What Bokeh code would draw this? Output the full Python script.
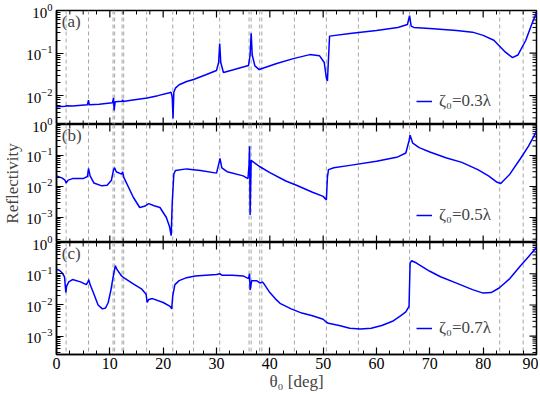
import numpy as np
from bokeh.plotting import figure
from bokeh.models import (LogAxis, LinearAxis, FixedTicker, Span, Label,
                          Legend, LegendItem, Range1d, LogScale)
from bokeh.layouts import column
from bokeh.embed import file_html
from bokeh.resources import INLINE

FONT = "Liberation Serif"
BLUE = "#0000ff"

# ---------------- data ----------------
theta_a = [0.0, 1.7, 1.8, 3.0, 5.8, 6.0, 6.15, 8.0, 10.5, 10.7, 10.8, 11.0, 12.3, 12.4, 12.5, 14.0,
           17.0, 19.0, 21.0, 21.5, 21.7, 21.85, 22.0, 22.3, 23.0, 24.4, 25.7, 28.0, 30.0, 30.4,
           30.6, 30.8, 31.3, 33.0, 36.0, 36.3, 36.5, 36.7, 37.2, 38.0, 41.3, 44.4, 47.5, 49.3,
           50.2, 50.6, 50.8, 51.2, 55.0, 60.0, 64.0, 65.8, 66.2, 66.5, 67.0, 70.0, 75.0, 78.0,
           80.0, 82.0, 84.0, 85.5, 86.5, 88.0, 89.0, 90.0]
refl_a = [0.0055, 0.0056, 0.0058, 0.0057, 0.0061, 0.0078, 0.0061, 0.0063, 0.0068, 0.0088, 0.0045,
          0.0072, 0.0074, 0.0080, 0.0073, 0.0078, 0.0088, 0.0100, 0.0115, 0.0120, 0.0090, 0.0029,
          0.0120, 0.0150, 0.0180, 0.0215, 0.0240, 0.0310, 0.0390, 0.0600, 0.168, 0.060, 0.035,
          0.040, 0.051, 0.090, 0.290, 0.090, 0.050, 0.041, 0.057, 0.074, 0.092, 0.087, 0.060,
          0.026, 0.022, 0.250, 0.290, 0.340, 0.400, 0.470, 0.760, 0.430, 0.400, 0.380, 0.340,
          0.310, 0.260, 0.200, 0.110, 0.078, 0.090, 0.200, 0.440, 0.900]

theta_b = [0.0, 1.0, 1.6, 1.8, 2.2, 3.0, 5.0, 5.8, 6.0, 6.3, 7.0, 8.5, 9.5, 10.3, 10.7, 10.9, 11.2,
           12.2, 12.4, 12.6, 14.4, 15.6, 16.5, 17.3, 18.3, 19.4, 20.6, 21.2, 21.5, 21.7, 22.0,
           22.3, 24.4, 27.0, 30.0, 30.5, 30.65, 31.0, 32.0, 35.0, 35.9, 36.1, 36.2, 36.3, 36.5,
           37.0, 38.0, 40.0, 43.0, 45.0, 48.0, 50.0, 50.6, 50.8, 51.0, 52.0, 55.0, 60.0, 64.0,
           65.5, 66.1, 66.3, 66.8, 68.0, 70.0, 73.0, 76.0, 79.0, 81.0, 82.5, 83.3, 85.0, 87.0,
           88.5, 90.0]
refl_b = [0.022, 0.019, 0.016, 0.013, 0.016, 0.018, 0.018, 0.021, 0.038, 0.022, 0.013, 0.0105,
          0.011, 0.016, 0.035, 0.040, 0.030, 0.025, 0.030, 0.020, 0.0045, 0.0021, 0.0023, 0.0028,
          0.0024, 0.0021, 0.0010, 0.0005, 0.00026, 0.003, 0.025, 0.033, 0.037, 0.033, 0.027,
          0.060, 0.080, 0.040, 0.030, 0.022, 0.018, 0.050, 0.200, 0.0012, 0.070, 0.060, 0.045,
          0.028, 0.015, 0.011, 0.0065, 0.0048, 0.0037, 0.020, 0.035, 0.040, 0.048, 0.065, 0.090,
          0.120, 0.300, 0.450, 0.250, 0.180, 0.130, 0.085, 0.060, 0.035, 0.022, 0.014, 0.0125,
          0.025, 0.080, 0.200, 0.600]

theta_c = [0.0, 0.5, 1.0, 1.5, 1.75, 1.9, 2.3, 3.0, 4.5, 5.6, 5.9, 6.05, 6.3, 6.9, 7.8, 8.6, 9.2,
           9.7, 10.2, 10.6, 10.9, 11.05, 11.3, 12.2, 12.4, 12.6, 14.4, 16.0, 16.8, 17.0, 17.3,
           18.0, 20.0, 21.3, 21.6, 21.8, 22.2, 23.0, 24.4, 26.0, 28.0, 30.0, 30.6, 31.0, 33.0,
           35.0, 36.0, 36.2, 36.3, 36.6, 37.5, 38.2, 38.6, 39.0, 40.0, 41.0, 42.0, 44.0, 46.0,
           48.0, 50.0, 50.6, 51.0, 53.0, 55.0, 57.0, 59.0, 61.0, 63.0, 64.5, 65.5, 66.1, 66.3,
           66.6, 67.5, 70.0, 72.0, 75.0, 78.0, 80.0, 81.5, 83.0, 85.0, 87.0, 88.5, 90.0]
refl_c = [0.14, 0.13, 0.11, 0.08, 0.025, 0.04, 0.055, 0.065, 0.055, 0.045, 0.055, 0.065, 0.045,
          0.025, 0.010, 0.0075, 0.008, 0.012, 0.030, 0.075, 0.14, 0.18, 0.14, 0.085, 0.080,
          0.075, 0.047, 0.032, 0.022, 0.012, 0.015, 0.016, 0.012, 0.009, 0.0075, 0.020, 0.045,
          0.060, 0.075, 0.085, 0.090, 0.095, 0.100, 0.090, 0.090, 0.085, 0.070, 0.100, 0.030,
          0.060, 0.060, 0.050, 0.055, 0.045, 0.025, 0.016, 0.011, 0.0075, 0.0055, 0.0045, 0.0035,
          0.0028, 0.0026, 0.0022, 0.0018, 0.0017, 0.0018, 0.0022, 0.0030, 0.0045, 0.0060, 0.0090,
          0.22, 0.26, 0.22, 0.12, 0.080, 0.050, 0.031, 0.024, 0.025, 0.035, 0.070, 0.18, 0.35, 0.70]

anomalies = [1.8, 6.0, 10.6, 10.9, 12.3, 12.6, 16.9, 21.8, 25.7, 30.6, 36.1, 36.5, 38.1, 38.5,
             44.6, 50.6, 56.6, 66.2, 83.1, 87.5]

panel_names = ["(a)", "(b)", "(c)"]
legend_texts = ["\u03b6\u2080=0.3\u03bb", "\u03b6\u2080=0.5\u03bb", "\u03b6\u2080=0.7\u03bb"]
y_bounds = [(0.0021, 1.0), (0.000156, 1.0), (0.00026, 1.0)]
y_major = [[0.01, 0.1, 1.0], [0.001, 0.01, 0.1, 1.0], [0.001, 0.01, 0.1, 1.0]]
x_major = [0, 10, 20, 30, 40, 50, 60, 70, 80, 90]
x_minor = [v + d for v in x_major[:-1] for d in (2.5, 5.0, 7.5)]
x_label = "\u03b8\u2080 [deg]"
y_label = "Reflectivity"


def minor_ticks(lo, hi):
    out = []
    for e in range(-5, 1):
        for k in range(2, 10):
            v = k * 10.0 ** e
            if lo <= v <= hi:
                out.append(v)
    return out


def style_axis(ax, size="16px", standoff=3):
    ax.axis_line_width = 1.5
    ax.axis_line_color = "black"
    ax.major_tick_in = 7
    ax.major_tick_out = 0
    ax.minor_tick_in = 4
    ax.minor_tick_out = 0
    ax.major_tick_line_width = 1.2
    ax.minor_tick_line_width = 1.0
    ax.major_tick_line_color = "black"
    ax.minor_tick_line_color = "black"
    ax.major_label_text_font = FONT
    ax.major_label_text_font_size = size
    ax.major_label_text_color = "black"
    ax.major_label_standoff = standoff


def mirror_ticks(p, xs, ys, length, angle, width):
    p.ray(x=xs, y=ys, length=length, length_units="screen", angle=angle,
          line_color="black", line_width=width)


BTOP = 10
frame_heights = [114, 118, 112]
legend_y = [13, 17, 16]
figs = []
for i, (th, rf) in enumerate([(theta_a, refl_a), (theta_b, refl_b), (theta_c, refl_c)]):
    lo, hi = y_bounds[i]
    last = i == 2
    p = figure(frame_width=480, frame_height=frame_heights[i], output_backend="svg",
               toolbar_location=None, x_axis_type=None, y_axis_type=None,
               x_range=Range1d(0, 90), y_range=Range1d(lo, hi),
               min_border_left=50, min_border_right=8, min_border_top=BTOP,
               min_border_bottom=(37 if last else 0))
    p.y_scale = LogScale()
    p.background_fill_color = None
    p.border_fill_color = None
    p.outline_line_color = "black"
    p.outline_line_width = 1.5
    ymin_t = minor_ticks(lo, hi)
    left = LogAxis(ticker=FixedTicker(ticks=y_major[i], minor_ticks=ymin_t))
    style_axis(left, size="15px", standoff=4)
    if i == 1:
        left.axis_label = y_label
        left.axis_label_text_font = FONT
        left.axis_label_text_font_size = "17px"
        left.axis_label_text_font_style = "normal"
        left.axis_label_standoff = 1
    p.add_layout(left, "left")
    if last:
        below = LinearAxis(ticker=FixedTicker(ticks=x_major, minor_ticks=x_minor))
        style_axis(below, size="16px")
        below.axis_label = x_label
        below.axis_label_text_font = FONT
        below.axis_label_text_font_size = "17px"
        below.axis_label_text_font_style = "normal"
        below.axis_label_standoff = 0
        p.add_layout(below, "below")

    for a in anomalies:
        p.add_layout(Span(location=a, dimension="height", line_color="#a8a8a8",
                          line_dash="4 3", line_width=1, level="underlay"))

    # mirrored inward ticks (top, bottom, right)
    mirror_ticks(p, x_major, [hi] * len(x_major), 7, -np.pi / 2, 1.2)
    mirror_ticks(p, x_minor, [hi] * len(x_minor), 4, -np.pi / 2, 1.0)
    if not last:
        mirror_ticks(p, x_major, [lo] * len(x_major), 7, np.pi / 2, 1.2)
        mirror_ticks(p, x_minor, [lo] * len(x_minor), 4, np.pi / 2, 1.0)
    mirror_ticks(p, [90] * len(y_major[i]), y_major[i], 7, np.pi, 1.2)
    mirror_ticks(p, [90] * len(ymin_t), ymin_t, 4, np.pi, 1.0)

    r = p.line(th, rf, line_color=BLUE, line_width=1.5)

    leg = Legend(items=[LegendItem(label=legend_texts[i], renderers=[r])],
                 location=(360, legend_y[i]), border_line_color=None,
                 background_fill_alpha=0, label_text_font=FONT, label_text_font_size="17px",
                 glyph_width=16, label_standoff=7, padding=0, margin=0, spacing=0)
    p.add_layout(leg)

    p.add_layout(Label(x=1.0, y=hi, y_offset=-1, text=panel_names[i], text_font=FONT,
                       text_font_size="17px", text_baseline="top", text_align="left"))
    if i > 0:
        p.margin = (-BTOP, 0, 0, 0)
    figs.append(p)

layout = column(*figs, spacing=0)
open("out.html", "w").write(file_html(layout, INLINE))
